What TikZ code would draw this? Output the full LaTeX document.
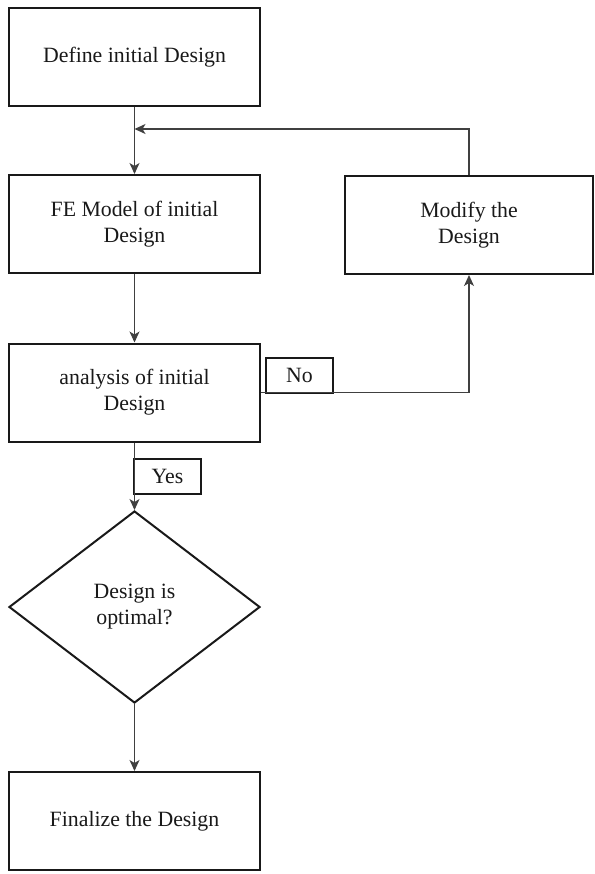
\documentclass[tikz,border=0pt]{standalone}
\usepackage{fontspec}
\setmainfont{Liberation Serif}
\usetikzlibrary{shapes.geometric,arrows.meta}
\begin{document}
\begin{tikzpicture}[x=1pt,y=-1pt,
  boxnode/.style={draw=black!90, line width=2pt, minimum width=251pt, minimum height=98pt, inner sep=0pt, align=center, font=\fontsize{21.8}{26}\selectfont, text=black!90},
  labelnode/.style={draw=black!90, line width=2pt, minimum width=67pt, minimum height=35pt, inner sep=0pt, font=\fontsize{21.8}{26}\selectfont, text=black!90},
  decision/.style={diamond, draw=black!90, line width=2pt, minimum width=251pt, minimum height=192pt, inner sep=0pt, align=center, font=\fontsize{21.8}{26}\selectfont, text=black!90},
  conn/.style={draw=black!75, line width=1.3pt, -{Stealth[length=11pt,width=10pt,inset=3pt]}},
  plainconn/.style={draw=black!75, line width=1.3pt}
]
\useasboundingbox (0,0) rectangle (594,874);
\node[boxnode] (b1) at (134.5,57.5) {Define initial Design};
\node[boxnode] (b2) at (134.5,224) {FE Model of initial\\Design};
\node[boxnode, minimum width=248pt] (mod) at (469,225) {Modify the\\Design};
\node[boxnode] (b3) at (134.5,392.5) {analysis of initial\\Design};
\node[labelnode] (no) at (299.5,375.5) {No};
\node[labelnode] (yes) at (167.5,476.5) {Yes};
\node[decision] (dec) at (134.5,607) {Design is\\optimal?};
\node[boxnode] (b4) at (134.5,821) {Finalize the Design};
\coordinate (fb) at (134.5,129);
\draw[conn] (b1.south) -- (b2.north);
\draw[conn] (mod.north) |- (fb);
\draw[conn] (b2.south) -- (b3.north);
\draw[conn] (b3.east) -| (mod.south);
\draw[conn] (b3.south) -- (dec.north);
\draw[conn] (dec.south) -- (b4.north);
\end{tikzpicture}
\end{document}
